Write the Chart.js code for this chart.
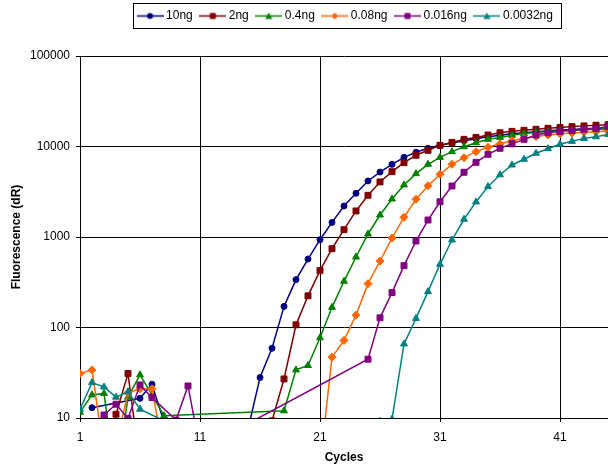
<!DOCTYPE html>
<html><head><meta charset="utf-8">
<script src="https://cdn.jsdelivr.net/npm/chart.js@4.4.1/dist/chart.umd.min.js"></script>
<style>html,body{margin:0;padding:0;background:#fff;overflow:hidden}canvas{display:block}</style>
</head><body>
<canvas id="c" width="608" height="465"></canvas>
<script>
// ---- data ----
const cycles = [1,2,3,4,5,6,7,8,9,10,11,12,13,14,15,16,17,18,19,20,21,22,23,24,25,26,27,28,29,30,31,32,33,34,35,36,37,38,39,40,41,42,43,44,45];
const seriesNames = ['10ng','2ng','0.4ng','0.08ng','0.016ng','0.0032ng'];
const s10ng = [null,13,null,null,null,16.5,23.6,9,9,9,
  null,null,null,null,7.5,28,59,171,338,571,
  933,1450,2200,3040,4160,5220,6350,7590,8630,9550,
  10300,10900,11600,12200,12800,13300,13800,14200,14600,14900,
  15200,15400,15700,15900,16100];
const s2ng = [null,null,3,11,31,3,null,null,null,null,
  null,null,null,null,null,4,9.3,27,107,224,
  425,743,1205,1940,2890,4060,5270,6630,8000,9080,
  10300,11100,12000,12600,13400,14200,14700,15100,15500,15900,
  16200,16600,16900,17200,17400];
const s04ng = [11.6,18,18.7,2,17,30,18,10.6,null,null,
  null,null,null,null,null,null,null,12,34,38,
  77,167,324,601,1080,1750,2630,3760,5010,6360,
  7590,8770,9950,11000,12000,12600,13300,13900,14300,14600,
  14900,15100,15300,15500,15600];
const s008ng = [31,34,4,5,19,21,21,4,null,null,
  null,null,null,null,null,null,null,null,null,null,
  3,47,72,137,305,543,975,1650,2610,3690,
  4930,6350,7520,8770,9800,10700,11600,12300,12900,13400,
  13800,14100,14400,14600,14800];
const s0016ng = [null,null,10.8,14.2,9.9,23.2,16.8,null,9.5,22.6,
  4.5,null,null,null,null,null,null,null,null,null,
  null,null,null,null,44.6,128,243,482,903,1540,
  2450,3660,5190,6680,8200,9550,10700,12000,13400,14200,
  14700,15000,15500,15800,16600];
const s00032ng = [12.5,24.6,22,17,19.5,12.5,null,9.3,null,null,
  null,null,null,null,null,null,null,null,null,null,
  null,null,null,null,null,9.2,9.7,65.8,126,249,
  499,927,1570,2440,3600,4870,6250,7230,8410,9460,
  10600,11400,12300,12800,13600];
const xTickValues = [1,11,21,31,41];
const yTickValues = [10,100,1000,10000,100000];

// ---- styling ----
const seriesValues = [s10ng, s2ng, s04ng, s008ng, s0016ng, s00032ng];
const colors = ['#000080','#800000','#008000','#FF6600','#800080','#008080'];
const styles = ['circle','rect','triangle','rectRot','rect','triangle'];
const radii = [3, 4.2, 4, 4, 4.2, 4];

Chart.defaults.font.family = '"Liberation Sans", Arial, sans-serif';
Chart.defaults.font.size = 12;
Chart.defaults.color = '#000';

function legendIcon(color, style) {
  const c = document.createElement('canvas'); c.width = 27; c.height = 11;
  const g = c.getContext('2d');
  g.strokeStyle = color; g.fillStyle = color; g.lineWidth = 1.5;
  g.beginPath(); g.moveTo(0, 5.5); g.lineTo(27, 5.5); g.stroke();
  const cx = 13.5, cy = 5.5;
  g.beginPath();
  if (style === 'circle') g.arc(cx, cy, 3, 0, Math.PI * 2);
  else if (style === 'rect') g.rect(cx - 3, cy - 3, 6, 6);
  else if (style === 'triangle') { g.moveTo(cx, cy - 3.5); g.lineTo(cx + 3.5, cy + 3); g.lineTo(cx - 3.5, cy + 3); g.closePath(); }
  else { g.moveTo(cx, cy - 3.5); g.lineTo(cx + 3.5, cy); g.lineTo(cx, cy + 3.5); g.lineTo(cx - 3.5, cy); g.closePath(); }
  g.fill();
  return c;
}

const legendFrame = {
  id: 'legendFrame',
  afterLayout(chart) {
    const lg = chart.legend;
    const h = lg.height;
    lg.top = 0; lg.bottom = lg.top + h;
    lg.left = 80; lg.right = 613; lg.width = lg.right - lg.left;
  },
  afterDraw(chart) {
    const hb = chart.legend.legendHitBoxes;
    if (!hb || !hb.length) return;
    const last = hb[hb.length - 1];
    const l = hb[0].left - 7, r = last.left + last.width + 8;
    const t = hb[0].top - 7, b = hb[0].top + hb[0].height + 6;
    const ctx = chart.ctx;
    ctx.save(); ctx.strokeStyle = '#000'; ctx.lineWidth = 1;
    ctx.strokeRect(Math.round(l) + 0.5, Math.round(t) + 0.5, Math.round(r - l), Math.round(b - t));
    ctx.restore();
  }
};

new Chart(document.getElementById('c'), {
  type: 'line',
  data: {
    datasets: seriesNames.map((name, i) => ({
      label: name,
      data: cycles.map((c, j) => ({ x: c, y: seriesValues[i][j] })),
      borderColor: colors[i], backgroundColor: colors[i],
      pointStyle: styles[i], pointRadius: radii[i], pointHoverRadius: radii[i], pointBorderWidth: 1,
      borderWidth: 1.5, tension: 0, spanGaps: true, fill: false, order: 5 - i
    }))
  },
  options: {
    responsive: false, animation: false, devicePixelRatio: 1,
    layout: { autoPadding: false, padding: { top: 24, left: 0, right: 0, bottom: 0 } },
    plugins: {
      legend: {
        position: 'top',
        labels: {
          usePointStyle: true, pointStyleWidth: 20, padding: 10, color: '#000', font: { size: 12 },
          generateLabels: chart => chart.data.datasets.map((ds, i) => ({
            text: ds.label, pointStyle: legendIcon(colors[i], styles[i]),
            fillStyle: colors[i], strokeStyle: colors[i], lineWidth: 0, hidden: false, datasetIndex: i, fontColor: '#000'
          }))
        }
      },
      tooltip: { enabled: false }
    },
    scales: {
      x: {
        type: 'linear', min: 1, max: 45, bounds: 'data',
        afterBuildTicks: s => { s.ticks = xTickValues.map(v => ({ value: v })); },
        afterFit: s => { s.height = 47; s.paddingLeft = 0; s.paddingRight = 0; },
        ticks: { autoSkip: false, maxRotation: 0, padding: 8, color: '#000', callback: v => String(v) },
        grid: { color: '#000', lineWidth: 1, tickLength: 4 },
        border: { color: '#000', width: 1 },
        title: { display: true, text: 'Cycles', color: '#000', font: { weight: 'bold', size: 12 }, padding: { top: 0, bottom: 0 } }
      },
      y: {
        type: 'logarithmic', min: 10, max: 100000,
        afterBuildTicks: s => { s.ticks = yTickValues.map(v => ({ value: v })); },
        afterFit: s => { s.width = 80; },
        ticks: { padding: 6, color: '#000', callback: v => String(v) },
        grid: { color: '#000', lineWidth: 1, tickLength: 4 },
        border: { color: '#000', width: 1 },
        title: { display: true, text: 'Fluorescence (dR)', color: '#000', font: { weight: 'bold', size: 12 }, padding: { top: 9, bottom: 4 } }
      }
    }
  },
  plugins: [legendFrame]
});
</script>
</body></html>
